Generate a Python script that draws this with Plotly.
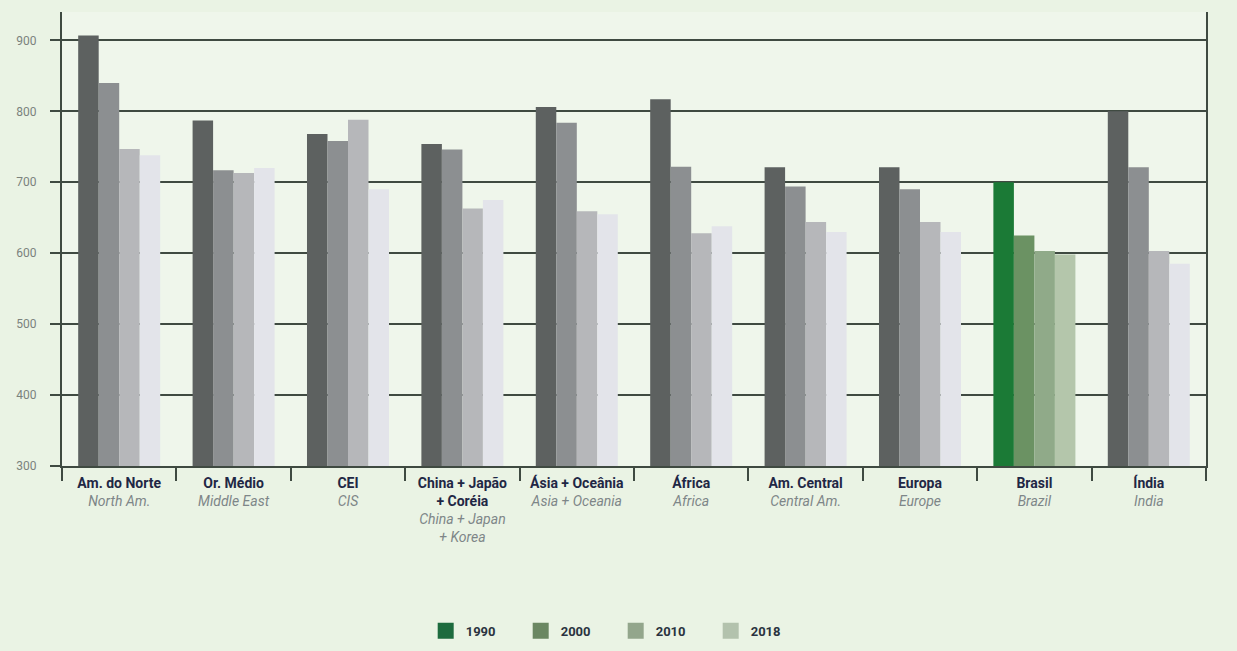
import plotly.graph_objects as go

# Regions (Portuguese label / English subtitle)
regions_pt = ["Am. do Norte", "Or. Médio", "CEI", "China + Japão<br>+ Coréia",
              "Ásia + Oceânia", "África", "Am. Central", "Europa", "Brasil", "Índia"]
regions_en = ["North Am.", "Middle East", "CIS", "China + Japan<br>+ Korea",
              "Asia + Oceania", "Africa", "Central Am.", "Europe", "Brazil", "India"]

years = ["1990", "2000", "2010", "2018"]
v1990 = [907, 787, 768, 754, 806, 817, 721, 721, 700, 800]
v2000 = [840, 717, 758, 746, 784, 722, 694, 690, 625, 721]
v2010 = [747, 713, 788, 663, 659, 628, 644, 644, 603, 603]
v2018 = [738, 720, 690, 675, 655, 638, 630, 630, 598, 585]
series = [v1990, v2000, v2010, v2018]

y_ticks = [300, 400, 500, 600, 700, 800, 900]

gray_shades = ["#5d6160", "#8c8f91", "#b6b7ba", "#e3e4ea"]
green_shades = ["#1b7a36", "#6b9263", "#90aa89", "#b4c6ab"]
legend_shades = ["#1d6b3e", "#6b8762", "#93a68c", "#b3c2ad"]
highlight = "Brasil"

FONT = "Roboto, Liberation Sans Narrow, DejaVu Sans Condensed, sans-serif"

fig = go.Figure()
for i, (yr, vals) in enumerate(zip(years, series)):
    colors = [green_shades[i] if r == highlight else gray_shades[i] for r in regions_pt]
    fig.add_trace(go.Bar(
        x=regions_pt, y=vals, name=yr, marker=dict(color=colors, line=dict(width=0)),
        showlegend=False,
    ))
    # legend key in the green palette
    fig.add_trace(go.Scatter(
        x=[None], y=[None], mode="markers", name=yr,
        marker=dict(symbol="square", size=17, color=legend_shades[i]),
    ))

tick_text = [
    f"<b>{pt}</b><br><span style='color:#7e8688'><i>{en}</i></span>"
    for pt, en in zip(regions_pt, regions_en)
]

grid_col = "#3f4a41"
fig.update_layout(
    width=1237, height=651,
    margin=dict(l=62, r=31, t=12, b=185, autoexpand=False),
    paper_bgcolor="#eaf3e4",
    plot_bgcolor="#eff6eb",
    barmode="group", bargap=0.283, bargroupgap=0,
    font=dict(family=FONT, color="#1f2745"),
    legend=dict(
        orientation="h", x=0.484, xanchor="center",
        yref="container", y=0.031, yanchor="middle",
        font=dict(family=FONT, size=13, color="#2a3340", weight="bold"),
        entrywidth=50, entrywidthmode="pixels", itemsizing="trace",
        bgcolor="rgba(0,0,0,0)",
    ),
    xaxis=dict(
        type="category", tickvals=regions_pt, ticktext=tick_text, tickangle=0,
        showline=True, linecolor=grid_col, linewidth=2,
        ticks="outside", tickson="boundaries", ticklen=13, tickwidth=2, tickcolor=grid_col,
        tickfont=dict(family=FONT, size=14, color="#1f2745"),
        ticklabelstandoff=3, showgrid=False,
    ),
    yaxis=dict(
        range=[300, 940], tickvals=y_ticks,
        showline=True, linecolor=grid_col, linewidth=2, mirror=True,
        ticks="outside", ticklen=10, tickwidth=2, tickcolor=grid_col,
        showgrid=True, gridcolor=grid_col, gridwidth=2,
        tickfont=dict(family=FONT, size=12, color="#7b827d"),
        ticklabelstandoff=11, zeroline=False,
    ),
)

fig.write_html("out.html")
